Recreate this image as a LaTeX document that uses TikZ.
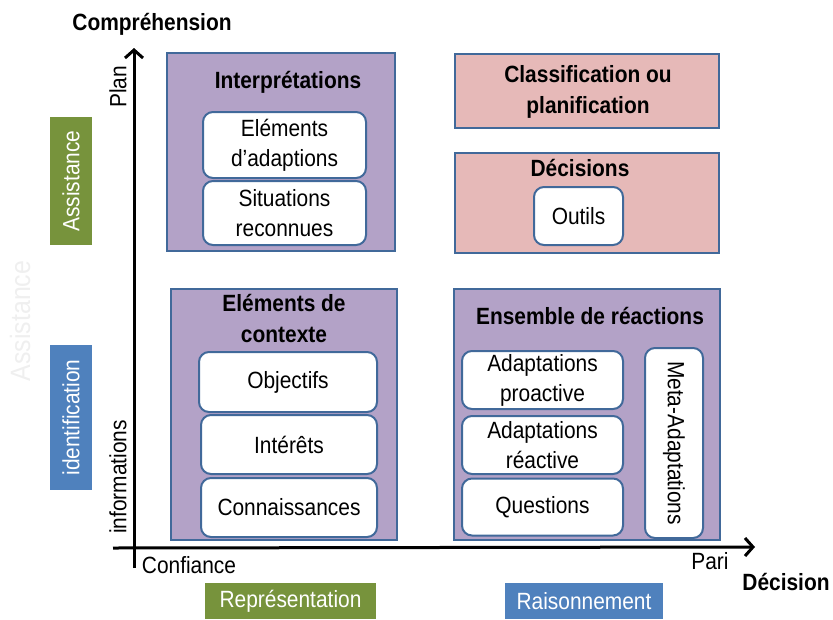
\documentclass[tikz,border=0pt]{standalone}
\usepackage{fontspec}
\setmainfont[FakeStretch=0.89]{Liberation Sans}
\usetikzlibrary{arrows.meta}
\definecolor{bordc}{HTML}{41699A}
\definecolor{purp}{HTML}{B3A2C7}
\definecolor{pinkc}{HTML}{E6B9B8}
\definecolor{greenc}{HTML}{77933C}
\definecolor{bluec}{HTML}{4F81BD}
\definecolor{ghost}{HTML}{EFEFEF}
\tikzset{
  txt/.style={font=\fontsize{23.5}{30}\selectfont, align=center, inner sep=0pt},
  btxt/.style={font=\fontsize{23.5}{31}\selectfont\bfseries, align=center, inner sep=0pt},
  pbox/.style={draw=bordc, line width=2pt, fill=purp, inner sep=0pt},
  kbox/.style={draw=bordc, line width=2pt, fill=pinkc, inner sep=0pt},
  wbox/.style={draw=bordc, line width=2pt, fill=white, rounded corners=10pt, inner sep=0pt, txt},
  gbox/.style={fill=greenc, inner sep=0pt, txt, text=white},
  bbox/.style={fill=bluec, inner sep=0pt, txt, text=white},
  axis/.style={line width=3pt, -{Straight Barb[length=8pt,width=18pt]}},
}
\begin{document}
\begin{tikzpicture}[x=1pt,y=-1pt]
\useasboundingbox (0,0) rectangle (833,619);

% side labels
\node[gbox, minimum width=42, minimum height=128] (assist) at (71,181) {};
\node[txt, text=white, rotate=90] (assistT) at (assist) {Assistance};
\node[bbox, minimum width=42, minimum height=145] (ident) at (71,417.5) {};
\node[txt, text=white, rotate=90] (identT) at (ident) {identification};
\node[txt, text=ghost, rotate=90, font=\fontsize{28}{30}\selectfont] (ghostT) at (20,321) {Assistance};
\node[gbox, minimum width=171, minimum height=36] (repr) at (290.5,601) {Représentation};
\node[bbox, minimum width=158, minimum height=36] (rais) at (584,601) {Raisonnement};

% quadrant boxes
\node[pbox, minimum width=228, minimum height=198] (interp) at (281,152) {};
\node[btxt] (interpT) at (288,82) {Interprétations};
\node[wbox, minimum width=163, minimum height=66] (elad) at (284.5,145) {Eléments\\d’adaptions};
\node[wbox, minimum width=163, minimum height=64] (situ) at (284.5,213) {Situations\\reconnues};

\node[pbox, minimum width=226, minimum height=251] (ctx) at (284,414.5) {};
\node[btxt] (ctxT) at (284,318) {Eléments de\\contexte};
\node[wbox, minimum width=178, minimum height=60] (obj) at (288,382) {\raisebox{-2pt}{Objectifs}};
\node[wbox, minimum width=176, minimum height=59] (inte) at (289,444.5) {\raisebox{-2pt}{Intérêts}};
\node[wbox, minimum width=176, minimum height=59] (conn) at (289,507.5) {\raisebox{-2pt}{Connaissances}};

\node[kbox, minimum width=264, minimum height=74] (classif) at (587,91) {};
\node[btxt] (classifT) at (588,92) {Classification ou\\planification};
\node[kbox, minimum width=264, minimum height=100] (decis) at (587,203) {};
\node[btxt] (decisT) at (580,168) {Décisions};
\node[wbox, minimum width=89, minimum height=58] (outils) at (578.5,216) {\raisebox{-2pt}{Outils}};

\node[pbox, minimum width=266, minimum height=251] (ens) at (587,414.5) {};
\node[btxt] (ensT) at (590,316) {Ensemble de réactions};
\node[wbox, minimum width=161, minimum height=58] (proa) at (542.5,380) {Adaptations\\proactive};
\node[wbox, minimum width=161, minimum height=58] (reac) at (542.5,445) {Adaptations\\réactive};
\node[wbox, minimum width=161, minimum height=57] (quest) at (542.5,507) {\raisebox{-2pt}{Questions}};
\node[wbox, minimum width=58, minimum height=190] (meta) at (674,443) {};
\node[txt, rotate=-90] (metaT) at (meta) {Meta-Adaptations};

% axes
\coordinate (yb) at (134,568);
\coordinate (yt) at (134,48);
\coordinate (xl) at (113,548);
\coordinate (xr) at (755,547);
\draw[axis] (yb) -- (yt);
\draw[axis] (xl) -- (xr);

% axis labels
\node[btxt] (compr) at (152,24) {Compréhension};
\node[btxt] (decT) at (786,582) {Décision};
\node[txt, rotate=90] (plan) at (118,87) {Plan};
\node[txt, rotate=90] (infos) at (118,477) {informations};
\node[txt] (conf) at (189,565) {Confiance};
\node[txt] (pari) at (710,561) {Pari};
\end{tikzpicture}
\end{document}
